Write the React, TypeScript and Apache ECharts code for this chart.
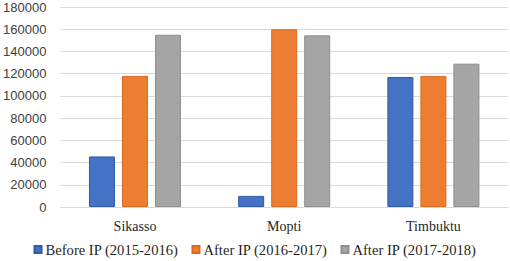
import React, { useEffect, useRef } from "react";
import * as echarts from "echarts";

const categories = ["Sikasso", "Mopti", "Timbuktu"];
const seriesNames = ["Before IP (2015-2016)", "After IP (2016-2017)", "After IP (2017-2018)"];
const before1516 = [45500, 10000, 117000];
const after1617 = [118000, 160000, 118000];
const after1718 = [155000, 154500, 129000];
const yTicks = [0, 20000, 40000, 60000, 80000, 100000, 120000, 140000, 160000, 180000];

const colors = ["#4472C4", "#ED7D31", "#A5A5A5"];
const borders = ["#2F5AA8", "#D96A1E", "#8E8E8E"];

export default function App() {
  const ref = useRef<HTMLDivElement>(null);
  useEffect(() => {
    if (!ref.current) return;
    const chart = echarts.init(ref.current, null, { renderer: "svg" });
    const data = [before1516, after1617, after1718];
    chart.setOption({
      animation: false,
      backgroundColor: "#ffffff",
      grid: { left: 59, right: 2, top: 7, bottom: 54 },
      legend: {
        top: 237,
        left: "center",
        itemWidth: 7,
        itemHeight: 7,
        itemGap: 13,
        icon: "rect",
        textStyle: { fontFamily: "Liberation Serif", fontSize: 14.6, color: "#262626", padding: [0, 0, 0, -1] },
        data: seriesNames,
      },
      xAxis: {
        type: "category",
        data: categories,
        axisLine: { lineStyle: { color: "#D9D9D9", width: 1 } },
        axisTick: { show: false },
        axisLabel: { fontFamily: "Liberation Serif", fontSize: 14, color: "#262626", margin: 12 },
      },
      yAxis: {
        type: "value",
        min: yTicks[0],
        max: yTicks[yTicks.length - 1],
        interval: 20000,
        axisLine: { show: false },
        axisTick: { show: false },
        splitLine: { lineStyle: { color: "#D9D9D9", width: 1 } },
        axisLabel: {
          fontFamily: "Liberation Sans",
          fontSize: 13,
          color: "#404040",
          margin: 14,
          formatter: (v: number) => String(v),
        },
      },
      series: seriesNames.map((name, i) => ({
        name,
        type: "bar",
        data: data[i],
        barWidth: 26,
        barGap: "27%",
        itemStyle: { color: colors[i], borderColor: borders[i], borderWidth: 1 },
      })),
    });
    return () => chart.dispose();
  }, []);
  return (
    <div
      ref={ref}
      style={{ position: "fixed", left: 0, top: 0, width: 510, height: 261, background: "#fff" }}
    />
  );
}
